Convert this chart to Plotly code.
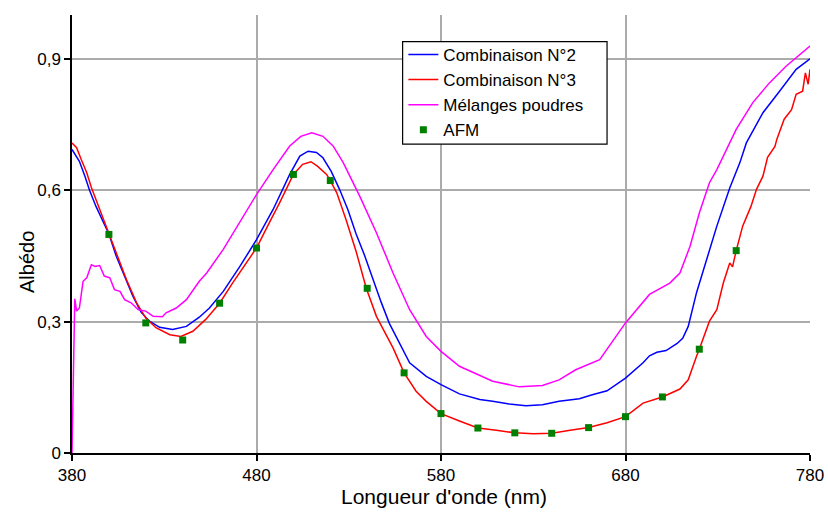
import plotly.graph_objects as go

# ---- data ----
blue_x = [380, 381.5, 384, 387, 389.5, 393, 397, 400, 404, 408.5, 413, 417.5, 422, 427.5, 434.5, 442, 449, 454.5,
          462, 471, 480, 489, 498, 503.5, 508, 512.5, 516, 520.5, 525, 529.5, 534, 538.5, 543, 547.5, 552, 557.5,
          563, 572, 580, 590, 601, 608, 617, 626, 635, 644, 655, 662, 666, 670, 680, 689.5, 693, 697, 702, 708,
          711, 714, 718.5, 724, 729.5, 736.5, 742, 745.5, 754.5, 763.5, 772.5, 780]
blue_y = [0.693, 0.682, 0.666, 0.632, 0.600, 0.563, 0.526, 0.500, 0.449, 0.404, 0.358, 0.321, 0.301, 0.287, 0.282,
          0.289, 0.310, 0.331, 0.369, 0.426, 0.487, 0.556, 0.636, 0.678, 0.689, 0.686, 0.674, 0.643, 0.602, 0.556,
          0.500, 0.452, 0.396, 0.345, 0.296, 0.250, 0.206, 0.175, 0.156, 0.135, 0.122, 0.118, 0.112, 0.108, 0.110,
          0.118, 0.124, 0.133, 0.137, 0.142, 0.171, 0.206, 0.222, 0.230, 0.234, 0.250, 0.262, 0.289, 0.366, 0.442,
          0.518, 0.605, 0.663, 0.708, 0.777, 0.826, 0.876, 0.900]

red_x = [380, 382.5, 385, 388, 390.5, 394, 397.5, 400, 404, 409.5, 415, 420, 425.5, 433, 439, 445.5, 452.5, 460,
         467, 474.5, 480, 486, 492.5, 500, 505, 509.5, 513, 518, 520, 523.5, 528.5, 534, 539.5, 545, 549.5, 554,
         560, 566.5, 572, 577.5, 580, 590, 600, 610, 620, 630, 640, 650, 660, 670, 680, 689.5, 700, 709.5, 714,
         718.5, 720, 725.5, 729.5, 733, 736.5, 738, 740, 743.5, 748, 751, 754.5, 757, 761, 762, 766, 770, 772.5,
         776, 777.5, 779, 780]
red_y = [0.708, 0.697, 0.670, 0.640, 0.606, 0.567, 0.529, 0.500, 0.453, 0.396, 0.343, 0.308, 0.286, 0.270, 0.266,
         0.278, 0.305, 0.342, 0.388, 0.434, 0.468, 0.518, 0.571, 0.636, 0.659, 0.665, 0.655, 0.636, 0.622, 0.594,
         0.533, 0.460, 0.376, 0.312, 0.275, 0.240, 0.183, 0.141, 0.118, 0.100, 0.090, 0.073, 0.057, 0.052, 0.046,
         0.044, 0.045, 0.052, 0.058, 0.069, 0.083, 0.114, 0.128, 0.146, 0.167, 0.221, 0.237, 0.301, 0.327, 0.388,
         0.434, 0.425, 0.462, 0.518, 0.563, 0.602, 0.632, 0.675, 0.700, 0.716, 0.762, 0.784, 0.819, 0.826, 0.868,
         0.842, 0.876]

mag_x = [380, 381.5, 382.5, 384, 386, 388, 390.5, 392.5, 395, 397.5, 400.5, 403, 406, 408.5, 412, 416, 420, 424,
         429, 431, 436.5, 442, 449, 453, 462, 471, 480, 489, 498, 504, 510, 516, 521.5, 527, 534, 536, 545, 554,
         563, 572, 580, 590, 608, 622.5, 635, 644, 653, 666, 680, 693, 704, 709.5, 715, 720, 725.5, 729.5, 740,
         749, 758, 767, 780]
mag_y = [0.0, 0.352, 0.324, 0.331, 0.392, 0.400, 0.430, 0.426, 0.428, 0.404, 0.400, 0.373, 0.369, 0.350, 0.343,
         0.327, 0.324, 0.312, 0.311, 0.320, 0.331, 0.350, 0.392, 0.411, 0.465, 0.529, 0.590, 0.647, 0.701, 0.723,
         0.731, 0.723, 0.701, 0.663, 0.602, 0.586, 0.503, 0.411, 0.327, 0.266, 0.232, 0.198, 0.164, 0.151, 0.154,
         0.167, 0.190, 0.213, 0.297, 0.362, 0.388, 0.411, 0.472, 0.548, 0.617, 0.647, 0.739, 0.800, 0.845, 0.883,
         0.929]

afm_x = [400, 420, 440, 460, 480, 500, 520, 540, 560, 580, 600, 620, 640, 660, 680, 700, 720, 740]
afm_y = [0.499, 0.297, 0.258, 0.342, 0.468, 0.636, 0.622, 0.376, 0.183, 0.090, 0.057, 0.046, 0.045, 0.058,
         0.083, 0.128, 0.237, 0.462]

x_ticks = [380, 480, 580, 680, 780]
y_ticks = [0, 0.3, 0.6, 0.9]
y_tick_text = ["0", "0,3", "0,6", "0,9"]

FONT = "Liberation Sans, Arial, sans-serif"

fig = go.Figure()
fig.add_trace(go.Scatter(x=blue_x, y=blue_y, mode="lines", name="Combinaison N°2",
                         line=dict(color="#0000ff", width=1.5)))
fig.add_trace(go.Scatter(x=red_x, y=red_y, mode="lines", name="Combinaison N°3",
                         line=dict(color="#ff0000", width=1.5)))
fig.add_trace(go.Scatter(x=mag_x, y=mag_y, mode="lines", name="Mélanges poudres",
                         line=dict(color="#ff00ff", width=1.5)))
fig.add_trace(go.Scatter(x=afm_x, y=afm_y, mode="markers", name="AFM",
                         marker=dict(color="#008000", symbol="square", size=7)))

fig.update_layout(
    width=828, height=513,
    margin=dict(l=72, r=18, t=15, b=60),
    paper_bgcolor="white", plot_bgcolor="white",
    font=dict(family=FONT, size=17, color="black"),
    showlegend=True,
    legend=dict(x=0.449, y=0.950, xanchor="left", yanchor="top",
                bgcolor="rgba(0,0,0,0)", borderwidth=0,
                font=dict(family=FONT, size=17, color="black"),
                itemwidth=30),
    xaxis=dict(range=[380, 780], tickvals=x_ticks, ticktext=[str(v) for v in x_ticks],
               showgrid=True, gridcolor="#ababab", gridwidth=1.5,
               showline=True, linecolor="black", linewidth=1.5,
               ticks="outside", ticklen=6, tickcolor="black", tickwidth=1.5,
               zeroline=False, tickfont=dict(size=17), automargin=False),
    yaxis=dict(range=[0, 1.0], tickvals=y_ticks, ticktext=y_tick_text,
               showgrid=True, gridcolor="#ababab", gridwidth=1.5,
               showline=True, linecolor="black", linewidth=1.5,
               ticks="outside", ticklen=6, tickcolor="black", tickwidth=1.5,
               zeroline=False, tickfont=dict(size=17), automargin=False),
    shapes=[
        dict(type="rect", xref="paper", yref="paper", x0=0.448, x1=0.725, y0=0.705, y1=0.939,
             line=dict(color="black", width=1.2), fillcolor="white", layer="above"),
    ],
    annotations=[
        dict(text="Longueur d'onde (nm)", xref="paper", yref="paper", x=0.504, y=-0.0997,
             xanchor="center", yanchor="middle", showarrow=False,
             font=dict(family=FONT, size=21, color="black")),
        dict(text="Albédo", xref="paper", yref="paper", x=-0.061, y=0.436, textangle=-90,
             xanchor="center", yanchor="middle", showarrow=False,
             font=dict(family=FONT, size=20, color="black")),
    ],
)

fig.write_html("out.html", config={"displayModeBar": False},
               post_script="document.body.style.margin='0';document.body.style.overflow='hidden';")
